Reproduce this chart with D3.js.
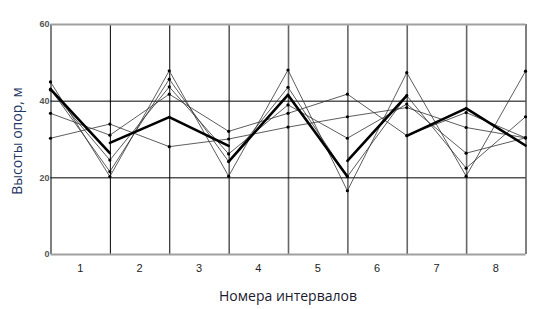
<!doctype html>
<html lang=ru>
<head>
  <meta charset=utf-8>
  <title>Высоты опор по интервалам</title>
  <style>
    html, body { margin: 0; background: #fff; }
    body { width: 556px; height: 309px; overflow: hidden; }
    svg { display: block; font-family: "Liberation Sans", Arial, sans-serif; }
    .grid line { stroke: #000; stroke-width: 1; }
    .grid path { display: none; }
    .ylab text { font-size: 9px; font-weight: bold; fill: #555; }
    .ylab path, .ylab line { display: none; }
    .thin { fill: none; stroke: #333; stroke-width: 0.8; }
    .thick { stroke: #000; stroke-width: 2.6; stroke-linecap: round; }
  </style>
  <script src="https://cdn.jsdelivr.net/npm/d3@7"></script>
</head>
<body>
<svg id=chart width=556 height=309></svg>
<script>
  // опоры 0..8, между ними интервалы 1..8
  const supports = [0, 1, 2, 3, 4, 5, 6, 7, 8]
  const intervals = [1, 2, 3, 4, 5, 6, 7, 8]
  const yTicks = [0, 20, 40, 60]

  // варианты (тонкие линии), высота на каждой опоре
  const variant1 = [44.9, 20.2, 47.8, 20.3, 48.0, 16.5, 47.3, 20.3, 47.7]
  const variant2 = [43.0, 21.5, 45.6, 24.1, 43.5, 20.2, 41.3, 22.4, 35.8]
  const variant3 = [42.8, 24.5, 43.6, 26.1, 38.9, 30.2, 39.1, 26.3, 30.3]
  const variant4 = [36.7, 31.0, 41.7, 32.0, 36.7, 41.7, 30.9, 36.9, 30.3]
  const variant5 = [30.2, 33.9, 28.0, 30.0, 33.1, 35.8, 38.2, 33.0, 30.3]

  // жирная линия: высота в начале и в конце каждого интервала
  const meanStart = [43.0, 29.0, 35.7, 24.1, 41.5, 24.3, 30.8, 38.0]
  const meanEnd   = [26.3, 35.7, 28.2, 41.5, 20.2, 41.3, 38.0, 28.3]

  const variants = [variant1, variant2, variant3, variant4, variant5]

  const plotLeft = 50.5, plotRight = 525.5, plotTop = 24, plotBottom = 254

  const svg = d3.select('#chart')

  const x = d3.scaleLinear().domain([0, 8]).range([plotLeft, plotRight])
  const y = d3.scaleLinear().domain([0, 60]).range([plotBottom, plotTop])

  // вертикальная сетка по опорам
  svg.append('g')
    .attr('class', 'grid')
    .attr('transform', 'translate(0,' + plotBottom + ')')
    .call(d3.axisBottom(x).tickValues(supports).tickSize(-(plotBottom - plotTop)).tickFormat(''))
    .selectAll('line')
      .style('stroke', (d, i) => (i >= 4 && i <= 7) ? '#666' : '#000')
      .style('stroke-width', (d, i) => (i >= 4 && i <= 7) ? 1.6 : 1)

  // горизонтальная сетка
  svg.append('g')
    .attr('class', 'grid')
    .attr('transform', 'translate(' + plotLeft + ',0)')
    .call(d3.axisLeft(y).tickValues(yTicks).tickSize(-(plotRight - plotLeft)).tickFormat(''))
    .selectAll('line')
      .style('stroke', d => (d === 0 || d === 60) ? '#a0a0a0' : '#000')
      .style('stroke-width', d => (d === 0 || d === 60) ? 2 : 1)

  // подписи оси Y
  svg.append('g')
    .attr('class', 'ylab')
    .attr('transform', 'translate(' + (plotLeft + 1) + ',0)')
    .call(d3.axisLeft(y).tickValues(yTicks).tickSize(0).tickPadding(2))

  // номера интервалов
  svg.append('g')
    .selectAll('text')
    .data(intervals)
    .join('text')
      .attr('x', d => x(d - 0.5))
      .attr('y', 272)
      .attr('text-anchor', 'middle')
      .attr('font-size', 11)
      .attr('fill', '#222')
      .text(d => d)

  // тонкие линии
  const line = d3.line()
    .x((d, i) => x(supports[i]))
    .y(d => y(d))

  svg.append('g')
    .selectAll('path')
    .data(variants)
    .join('path')
      .attr('class', 'thin')
      .attr('d', line)

  svg.append('g')
    .selectAll('circle')
    .data(variants.flatMap(v => v.map((d, i) => [supports[i], d])))
    .join('circle')
      .attr('cx', d => x(d[0]))
      .attr('cy', d => y(d[1]))
      .attr('r', 1.6)
      .attr('fill', '#000')

  // жирная линия по интервалам
  svg.append('g')
    .selectAll('line')
    .data(intervals)
    .join('line')
      .attr('class', 'thick')
      .attr('x1', (d, i) => x(i))
      .attr('x2', (d, i) => x(i + 1))
      .attr('y1', (d, i) => y(meanStart[i]))
      .attr('y2', (d, i) => y(meanEnd[i]))

  // заголовки осей
  svg.append('text')
    .attr('transform', 'translate(22,' + ((plotTop + plotBottom) / 2 + 2) + ') rotate(-90)')
    .attr('text-anchor', 'middle')
    .attr('font-family', '"Open Sans", sans-serif')
    .attr('font-size', 14)
    .attr('fill', '#1f3864')
    .text('Высоты опор, м')

  svg.append('text')
    .attr('x', (plotLeft + plotRight) / 2)
    .attr('y', 301)
    .attr('text-anchor', 'middle')
    .attr('font-family', '"Open Sans", sans-serif')
    .attr('font-size', 14)
    .attr('fill', '#1b1b2f')
    .text('Номера интервалов')
</script>
</body>
</html>
